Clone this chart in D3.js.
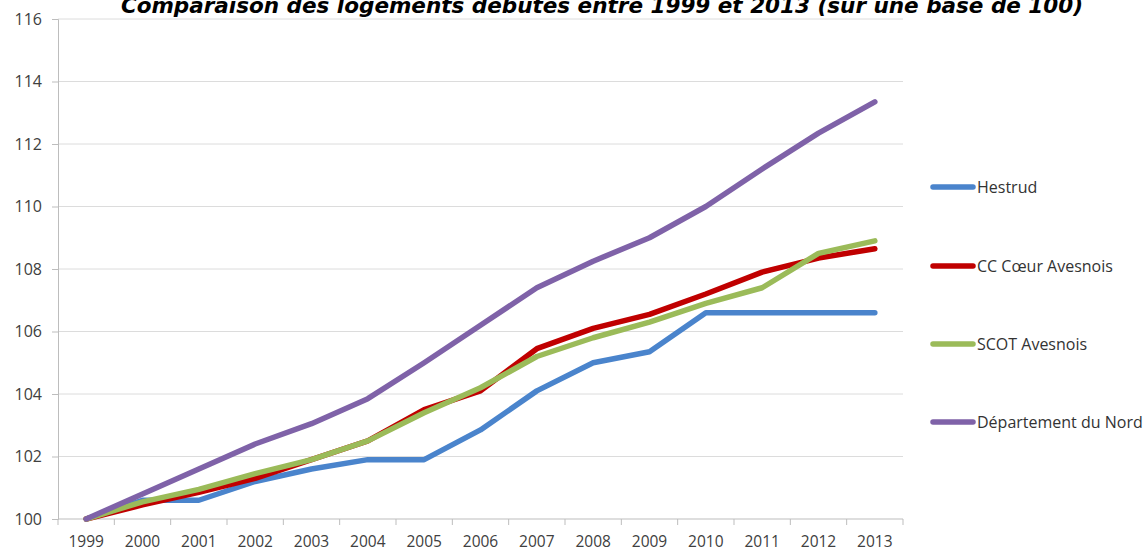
<!DOCTYPE html>
<html>
<head>
<meta charset="utf-8">
<script src="https://cdn.jsdelivr.net/npm/d3@7"></script>
<style>
  html, body { margin: 0; padding: 0; background: #fff; }
  svg { display: block; }
</style>
</head>
<body>
<div id="chart"></div>
<script>
// ---- Data -------------------------------------------------------------------
const years = ["1999", "2000", "2001", "2002", "2003", "2004", "2005", "2006",
  "2007", "2008", "2009", "2010", "2011", "2012", "2013"];

const hestrud = [100, 100.6, 100.6, 101.2, 101.6, 101.9, 101.9, 102.85,
  104.1, 105.0, 105.35, 106.6, 106.6, 106.6, 106.6];
const ccCoeur = [100, 100.45, 100.85, 101.3, 101.9, 102.5, 103.5, 104.1,
  105.45, 106.1, 106.55, 107.2, 107.9, 108.35, 108.65];
const scot = [100, 100.55, 100.95, 101.45, 101.9, 102.5, 103.4, 104.2,
  105.2, 105.8, 106.3, 106.9, 107.4, 108.5, 108.9];
const nord = [100, 100.8, 101.6, 102.4, 103.05, 103.85, 105.0, 106.2,
  107.4, 108.25, 109.0, 110.0, 111.2, 112.35, 113.35];

const seriesNames = ["Hestrud", "CC C\u0153ur Avesnois", "SCOT Avesnois", "D\u00e9partement du Nord"];
const seriesValues = [hestrud, ccCoeur, scot, nord];
const seriesColors = ["#4a84cc", "#c00000", "#9bbb59", "#7f62a8"];
const yTicks = [100, 102, 104, 106, 108, 110, 112, 114, 116];

const title = "Comparaison des logements d\u00e9but\u00e9s entre 1999 et 2013 (sur une base de 100)";

// ---- Layout -----------------------------------------------------------------
const width = 1147, height = 551;
const plot = { left: 58, right: 903, top: 19, bottom: 519 };

const svg = d3.select("#chart").append("svg")
  .attr("width", width).attr("height", height);

const x = d3.scaleBand().domain(years).range([plot.left, plot.right]);
const y = d3.scaleLinear().domain([100, 116]).range([plot.bottom, plot.top]);

// Title (cut at the top like the source)
svg.append("text")
  .attr("x", 602).attr("y", 13)
  .attr("text-anchor", "middle")
  .attr("font-family", "DejaVu Sans")
  .attr("font-weight", "bold")
  .attr("font-style", "italic")
  .attr("font-size", 21.5)
  .attr("fill", "#000")
  .text(title);

// Gridlines
svg.append("g")
  .selectAll("line")
  .data(yTicks.slice(1))
  .join("line")
  .attr("x1", plot.left).attr("x2", plot.right)
  .attr("y1", d => y(d)).attr("y2", d => y(d))
  .attr("stroke", "#dcdcdc").attr("stroke-width", 1);

// Y axis
const yAxis = d3.axisLeft(y).tickValues(yTicks).tickSize(6).tickPadding(10);
const gy = svg.append("g").attr("transform", `translate(${plot.left},0)`).call(yAxis);
gy.select(".domain").attr("stroke", "#bdbdbd");
gy.selectAll(".tick line").attr("stroke", "#bdbdbd");
gy.selectAll(".tick text")
  .attr("font-family", "Open Sans").attr("font-size", 16).attr("fill", "#404040");

// X axis: ticks between categories
const gx = svg.append("g").attr("transform", `translate(0,${plot.bottom})`);
gx.append("line")
  .attr("x1", plot.left).attr("x2", plot.right)
  .attr("stroke", "#bdbdbd");
gx.selectAll("line.tk")
  .data(years.concat(["end"]))
  .join("line")
  .attr("class", "tk")
  .attr("x1", (d, i) => plot.left + i * x.step())
  .attr("x2", (d, i) => plot.left + i * x.step())
  .attr("y1", 0).attr("y2", 6)
  .attr("stroke", "#bdbdbd");
gx.selectAll("text")
  .data(years)
  .join("text")
  .attr("x", d => x(d) + x.bandwidth() / 2)
  .attr("y", 28)
  .attr("text-anchor", "middle")
  .attr("font-family", "Open Sans").attr("font-size", 15.5).attr("fill", "#404040")
  .text(d => d);

// Lines
const line = d3.line()
  .x((d, i) => x(years[i]) + x.bandwidth() / 2)
  .y(d => y(d));

svg.append("g")
  .selectAll("path")
  .data(seriesValues)
  .join("path")
  .attr("d", d => line(d))
  .attr("fill", "none")
  .attr("stroke", (d, i) => seriesColors[i])
  .attr("stroke-width", 5.5)
  .attr("stroke-linejoin", "round")
  .attr("stroke-linecap", "round");

// Legend
const legendY = [187, 266, 344, 422];
const lg = svg.append("g")
  .selectAll("g")
  .data(seriesNames)
  .join("g")
  .attr("transform", (d, i) => `translate(933,${legendY[i]})`);
lg.append("line")
  .attr("x1", 0).attr("x2", 40)
  .attr("stroke", (d, i) => seriesColors[i])
  .attr("stroke-width", 5.5)
  .attr("stroke-linecap", "round");
lg.append("text")
  .attr("x", 44).attr("y", 5.5)
  .attr("font-family", "Open Sans").attr("font-size", 16).attr("fill", "#333")
  .text(d => d);
</script>
</body>
</html>
